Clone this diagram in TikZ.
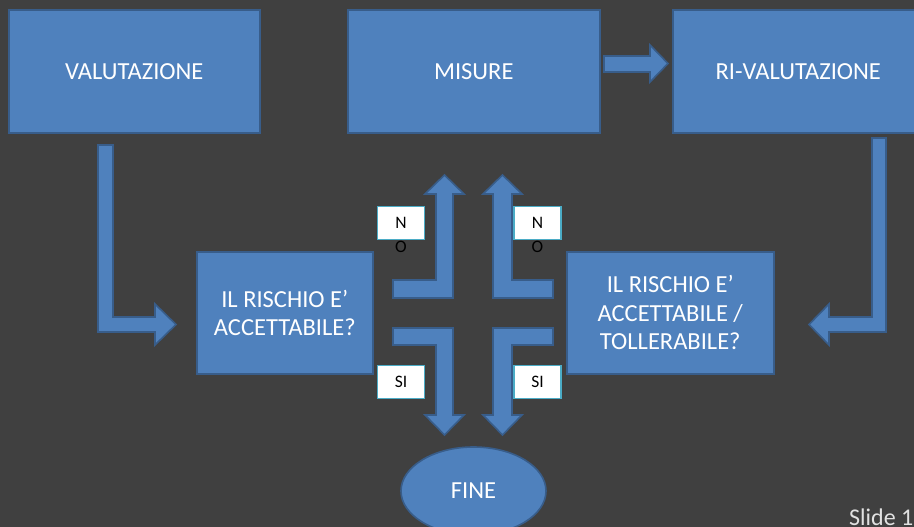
\documentclass[tikz,border=0pt]{standalone}
\usepackage{fontspec}
\setmainfont{Carlito}
\usetikzlibrary{shapes.geometric}
\definecolor{bgc}{RGB}{64,64,64}
\definecolor{boxfill}{RGB}{79,129,189}
\definecolor{boxline}{RGB}{56,93,138}
\definecolor{tealline}{RGB}{75,172,198}
\definecolor{slidegray}{RGB}{225,225,225}
\tikzset{
  box/.style={rectangle, fill=boxfill, draw=boxline, line width=1.6pt, text=white,
    align=center, anchor=north west, inner sep=0pt,
    font=\fontsize{24.5}{28.5}\selectfont},
  blockarrow/.style={fill=boxfill, draw=boxline, line width=1.6pt, line join=miter},
  tag/.style={rectangle, fill=white, draw=tealline, line width=1.6pt, text=black,
    minimum width=47pt, minimum height=33pt, inner sep=0pt,
    font=\fontsize{17.5}{20}\selectfont},
  tagtext/.style={text=black, inner sep=0pt, font=\fontsize{17.5}{20}\selectfont}
}
\begin{document}
\begin{tikzpicture}[x=1pt, y=-1pt]
\clip (0,0) rectangle (914,527);
\fill[bgc] (0,0) rectangle (914,527);
\useasboundingbox (0,0) rectangle (914,527);

% top boxes
\node[box, minimum width=251pt, minimum height=123pt] (val) at (8,9) {VALUTAZIONE};
\node[box, minimum width=252pt, minimum height=123pt] (mis) at (347,9) {MISURE};
\node[box, minimum width=251pt, minimum height=123pt] (rival) at (672,9) {RI-VALUTAZIONE};

% middle boxes
\node[box, minimum width=176pt, minimum height=122pt] (risk1) at (196,251) {IL RISCHIO E’\\ACCETTABILE?};
\node[box, minimum width=207pt, minimum height=122pt] (risk2) at (566,251) {IL RISCHIO E’\\ACCETTABILE /\\TOLLERABILE?};

% end ellipse
\node[ellipse, fill=boxfill, draw=boxline, line width=1.6pt, text=white,
  minimum width=145pt, minimum height=88pt, inner sep=0pt,
  font=\fontsize{24.5}{28}\selectfont] (fine) at (473.5,491) {FINE};

% MISURE -> RI-VALUTAZIONE
\draw[blockarrow] (604,56) -- (650,56) -- (650,45) -- (668,63.5) -- (650,82) -- (650,72) -- (604,72) -- cycle;

% VALUTAZIONE -> risk1
\draw[blockarrow] (98,145) -- (113,145) -- (113,317) -- (155,317) -- (155,304) -- (176,324.5) -- (155,345) -- (155,332) -- (98,332) -- cycle;

% RI-VALUTAZIONE -> risk2
\draw[blockarrow] (872,138) -- (886,138) -- (886,332) -- (829,332) -- (829,345) -- (809,324.5) -- (829,304) -- (829,317) -- (872,317) -- cycle;

% up arrows (NO)
\draw[blockarrow] (393,280) -- (436,280) -- (436,194) -- (425,194) -- (444.5,175) -- (464,194) -- (453,194) -- (453,298) -- (393,298) -- cycle;
\draw[blockarrow] (553,280) -- (512,280) -- (512,194) -- (522,194) -- (502.5,175) -- (483,194) -- (493,194) -- (493,298) -- (553,298) -- cycle;

% down arrows (SI)
\draw[blockarrow] (393,345) -- (436,345) -- (436,415) -- (425,415) -- (444.5,435) -- (464,415) -- (453,415) -- (453,328) -- (393,328) -- cycle;
\draw[blockarrow] (553,345) -- (512,345) -- (512,415) -- (522,415) -- (502.5,435) -- (483,415) -- (493,415) -- (493,328) -- (553,328) -- cycle;

% labels
\node[tag] (no1) at (401,223) {N};
\node[tagtext] (no1b) at (401,247) {O};
\node[tag] (no2) at (537.5,223) {N};
\node[tagtext] (no2b) at (537.5,247) {O};
\node[tag] (si1) at (401,382) {SI};
\node[tag] (si2) at (537.5,382) {SI};

% slide number
\node[anchor=base west, inner sep=0pt, text=slidegray, font=\fontsize{24}{28}\selectfont] (slide) at (849,525) {Slide 1};
\end{tikzpicture}
\end{document}
